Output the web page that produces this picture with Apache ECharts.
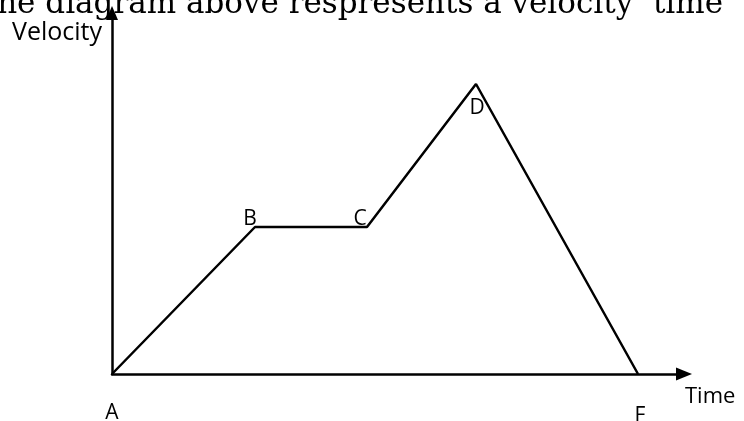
<!doctype html>
<html>
<head>
<meta charset="utf-8">
<script src="https://cdn.jsdelivr.net/npm/echarts@6/dist/echarts.min.js"></script>
<style>
    html, body {margin: 0; padding: 0; background: #fff;}
    #chart {width: 744px; height: 421px;}
</style>
</head>
<body>
<div id="chart"></div>
<script>
    // points of the velocity - time graph (arbitrary units)
    var pointNames = ['A', 'B', 'C', 'D', 'F'];
    var timeValues = [0, 14.3, 25.5, 36.4, 52.6];
    var velocityValues = [0, 14.7, 14.7, 29.0, 0];
    // where each letter sits relative to its corner (px)
    var labelOffsets = [[0, 39], [-5, -8], [-7, -8], [1, 24], [2, 42]];

    var dom = document.getElementById('chart');
    var myChart = echarts.init(dom);

    var font = '"Open Sans", sans-serif';

    var lineData = [], labelData = [];
    for (var i = 0; i < pointNames.length; i++) {
        lineData.push([timeValues[i], velocityValues[i]]);
        labelData.push({
            name: pointNames[i],
            value: [timeValues[i], velocityValues[i]],
            label: {offset: labelOffsets[i]}
        });
    }

    option = {
        animation: false,
        grid: {left: 112, right: 60, top: 13, bottom: 47},
        xAxis: {
            type: 'value',
            min: 0,
            max: 57.2,
            splitLine: {show: false},
            axisTick: {show: false},
            axisLabel: {show: false},
            axisLine: {
                symbol: ['none', 'triangle'],
                symbolSize: [13, 16],
                lineStyle: {color: '#000', width: 2.5}
            }
        },
        yAxis: {
            type: 'value',
            min: 0,
            max: 36.1,
            splitLine: {show: false},
            axisTick: {show: false},
            axisLabel: {show: false},
            axisLine: {
                show: true,
                symbol: ['none', 'triangle'],
                symbolSize: [12, 14],
                lineStyle: {color: '#000', width: 2.5}
            }
        },
        graphic: [
            {
                type: 'text', right: 21, top: -11,
                style: {text: 'he diagram above respresents a velocity \u2018time', fill: '#000',
                    font: '31px "DejaVu Serif", serif'}
            },
            {
                type: 'text', left: 12, top: 20,
                style: {text: 'Velocity', fill: '#000', font: '25px ' + font}
            },
            {
                type: 'text', left: 685, top: 386,
                style: {text: 'Time', fill: '#000', font: '22px ' + font}
            }
        ],
        series: [
            {
                type: 'line',
                data: lineData,
                showSymbol: false,
                lineStyle: {color: '#000', width: 2.5}
            },
            {
                type: 'scatter',
                data: labelData,
                symbolSize: 0,
                itemStyle: {color: '#000', opacity: 1},
                label: {
                    show: true,
                    position: 'inside',
                    formatter: '{b}',
                    color: '#000',
                    textBorderWidth: 0,
                    fontSize: 21,
                    fontFamily: 'Open Sans'
                }
            }
        ]
    };
    myChart.setOption(option);
</script>
</body>
</html>
